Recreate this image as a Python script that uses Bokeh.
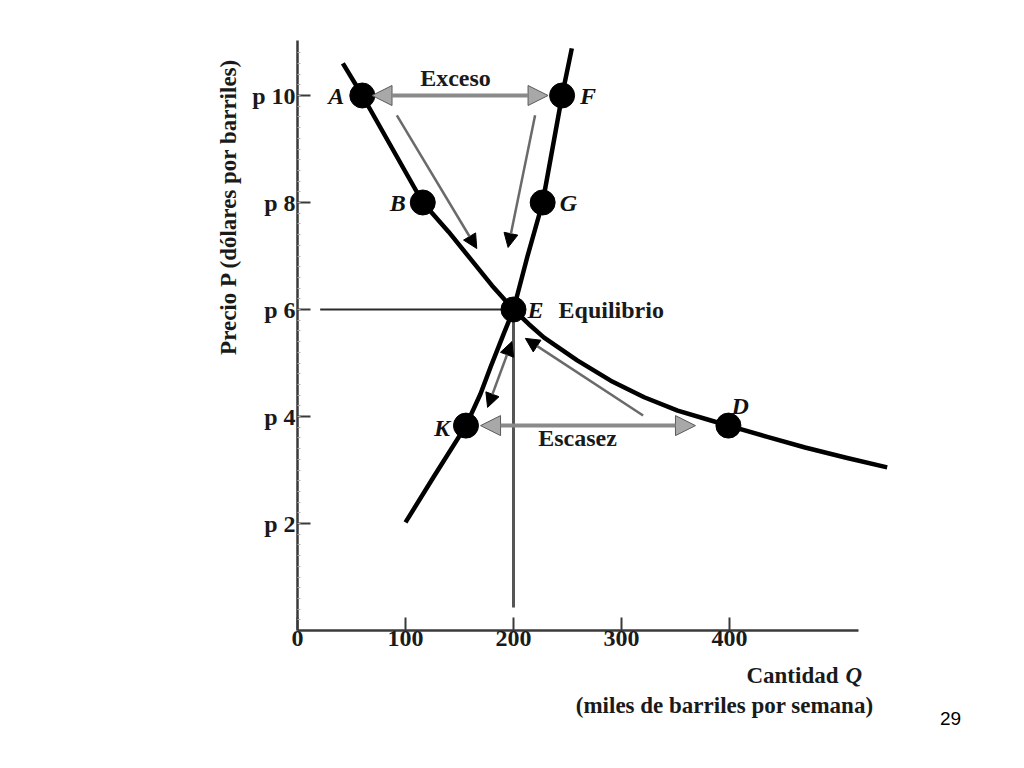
import math
from bokeh.plotting import figure
from bokeh.models import (ColumnDataSource, Label, Arrow, NormalHead, Range1d,
                          FixedTicker)
from bokeh.core.properties import value
from bokeh.embed import file_html
from bokeh.resources import INLINE

# ---------------- data ----------------
demand_q = [42, 60, 88, 116, 140, 160, 180, 200, 214, 228, 259, 290, 321, 352, 382, 399,
            435, 470, 508, 546]
demand_p = [10.6, 10.0, 9.0, 8.0, 7.45, 6.95, 6.45, 6.0, 5.73, 5.48, 5.05, 4.67, 4.36, 4.11,
            3.93, 3.83, 3.62, 3.42, 3.23, 3.05]

supply_q = [100, 126, 156, 169.4, 178.7, 191, 200, 213, 227, 236, 245, 254]
supply_p = [2.02, 2.87, 3.83, 4.42, 4.92, 5.55, 6.0, 7.0, 8.0, 9.0, 10.0, 10.88]

point_names = ["A", "B", "E", "K", "D", "F", "G"]
point_q = [60, 116, 200, 156, 399, 245, 227]
point_p = [10.0, 8.0, 6.0, 3.83, 3.83, 10.0, 8.0]

eq_q = 200
eq_p = 6

x_ticks = [0, 100, 200, 300, 400]
x_tick_labels = ["0", "100", "200", "300", "400"]
y_ticks = [2, 4, 6, 8, 10]
y_tick_labels = ["p 2", "p 4", "p 6", "p 8", "p 10"]

# double arrows (excess / shortage)
excess_q = [69, 232]
excess_p = 10.0
shortage_q = [169.5, 368.5]
shortage_p = 3.83

# adjustment arrows: start q, start p, end q, end p
adj_q0 = [92, 220, 320]
adj_p0 = [9.63, 9.63, 4.02]
adj_q1 = [166, 195, 211]
adj_p1 = [7.14, 7.16, 5.46]
# arrow along supply between K and E (heads at both ends)
kse_q = [198.5, 176]
kse_p = [5.4, 4.17]

x_title = "Cantidad"
x_title_var = "Q"
x_subtitle = "(miles de barriles por semana)"
y_title = "Precio P (dólares por barriles)"
slide_no = "29"

# ---------------- figure ----------------
SERIF = "Liberation Serif"
W, H = 1016, 760
PX_X = 1.08      # pixels per unit of quantity
PX_Y = 53.5      # pixels per unit of price
X0_PX, Y0_PX = 297, 630   # where the origin sits on the canvas
x_range = Range1d(-X0_PX / PX_X, (W - X0_PX) / PX_X)
y_range = Range1d((Y0_PX - H) / PX_Y, Y0_PX / PX_Y)

p = figure(width=W, height=H, x_range=x_range, y_range=y_range,
           output_backend="svg", toolbar_location=None,
           min_border_left=0, min_border_right=0, min_border_top=0, min_border_bottom=0)
p.grid.visible = False
p.outline_line_color = None
p.background_fill_color = "white"
p.border_fill_color = "white"

ax = p.xaxis[0]
ax.fixed_location = 0
ax.ticker = FixedTicker(ticks=x_ticks)
ax.major_label_overrides = {t: l for t, l in zip(x_ticks, x_tick_labels)}
ax.bounds = (0, 519)
ax.axis_line_width = 2.5
ax.axis_line_color = "#3a3a3a"
ax.major_tick_in = 13
ax.major_tick_out = 0
ax.major_tick_line_width = 2
ax.major_tick_line_color = "#3a3a3a"
ax.minor_tick_line_color = None
ax.major_label_standoff = 0
ax.major_label_text_font = SERIF
ax.major_label_text_font_style = "bold"
ax.major_label_text_font_size = "24px"
ax.major_label_text_color = "#1a1a1a"

ay = p.yaxis[0]
ay.fixed_location = 0
ay.ticker = FixedTicker(ticks=y_ticks, minor_ticks=[k * 0.2 for k in range(1, 55)])
ay.major_label_overrides = {t: l for t, l in zip(y_ticks, y_tick_labels)}
ay.bounds = (0, 11.03)
ay.axis_line_width = 2.5
ay.axis_line_color = "#3a3a3a"
ay.major_tick_in = 13
ay.major_tick_out = 0
ay.major_tick_line_width = 2
ay.major_tick_line_color = "#3a3a3a"
ay.minor_tick_in = 3
ay.minor_tick_out = 0
ay.minor_tick_line_width = 1
ay.minor_tick_line_color = "#b0b0b0"
ay.major_label_standoff = 2
ay.major_label_text_font = SERIF
ay.major_label_text_font_style = "bold"
ay.major_label_text_font_size = "24px"
ay.major_label_text_color = "#1a1a1a"

# guide lines to the equilibrium
p.line([21, eq_q], [eq_p, eq_p], line_color="#2a2a2a", line_width=2)
p.line([eq_q, eq_q], [0.43, eq_p], line_color="#555555", line_width=3)

# curves
p.line(demand_q, demand_p, line_color="black", line_width=4.5, line_join="round")
p.line(supply_q, supply_p, line_color="black", line_width=4.5, line_join="round")

# double arrows
gray_head = dict(size=20, fill_color="#a8a8a8", line_color="#5a5a5a", line_width=1)
p.add_layout(Arrow(x_start=excess_q[0], y_start=excess_p, x_end=excess_q[1], y_end=excess_p,
                   start=NormalHead(**gray_head), end=NormalHead(**gray_head),
                   line_color="#8a8a8a", line_width=4))
p.add_layout(Arrow(x_start=shortage_q[0], y_start=shortage_p, x_end=shortage_q[1], y_end=shortage_p,
                   start=NormalHead(**gray_head), end=NormalHead(**gray_head),
                   line_color="#8a8a8a", line_width=4))

# adjustment arrows
adj_src = ColumnDataSource(dict(x0=adj_q0, y0=adj_p0, x1=adj_q1, y1=adj_p1))
p.add_layout(Arrow(x_start="x0", y_start="y0", x_end="x1", y_end="y1", source=adj_src,
                   end=NormalHead(size=14, fill_color="black", line_color="black"),
                   line_color="#6a6a6a", line_width=2.5))
p.add_layout(Arrow(x_start=kse_q[0], y_start=kse_p[0], x_end=kse_q[1], y_end=kse_p[1],
                   start=NormalHead(size=14, fill_color="black", line_color="black"),
                   end=NormalHead(size=14, fill_color="black", line_color="black"),
                   line_color="#6a6a6a", line_width=2.5))

# points
p.scatter(point_q, point_p, size=25, fill_color="black", line_color="black")

# point letters
offsets = {"A": (-18, 0, "right"), "B": (-17, 0, "right"), "K": (-16, 2, "right"),
           "E": (14, 0, "left"), "F": (18, 0, "left"), "G": (17, 0, "left"),
           "D": (3, -20, "left")}
lab_src = ColumnDataSource(dict(
    x=point_q, y=point_p, t=point_names,
    xo=[offsets[n][0] for n in point_names],
    yo=[offsets[n][1] for n in point_names],
    al=[offsets[n][2] for n in point_names]))
p.text(x="x", y="y", text="t", x_offset="xo", y_offset="yo", text_align="al", source=lab_src,
       text_baseline="middle", text_font=value(SERIF), text_font_style="bold italic",
       text_font_size="24px", text_color="#111111")

# words
word_src = ColumnDataSource(dict(x=[146.3, 259.3], y=[10.32, 3.607], t=["Exceso", "Escasez"]))
p.text(x="x", y="y", text="t", source=word_src, text_align="center", text_baseline="middle",
       text_font=value(SERIF), text_font_style="bold", text_font_size="24px",
       text_color="#1a1a1a")
p.text(x=[241.7], y=[eq_p], text=["Equilibrio"], text_align="left", text_baseline="middle",
       text_font=value(SERIF), text_font_style="bold", text_font_size="24px",
       text_color="#1a1a1a")

# axis titles
p.add_layout(Label(x=-63.9, y=7.925, text=y_title, angle=math.pi / 2, text_align="center",
                   text_baseline="middle", text_font=SERIF, text_font_style="bold",
                   text_font_size="23px", text_color="#1a1a1a"))
p.add_layout(Label(x=500.9, y=-0.84, text=x_title, text_align="right", text_baseline="middle",
                   text_font=SERIF, text_font_style="bold", text_font_size="23px",
                   text_color="#1a1a1a"))
p.add_layout(Label(x=507.5, y=-0.84, text=x_title_var, text_align="left", text_baseline="middle",
                   text_font=SERIF, text_font_style="bold italic", text_font_size="23px",
                   text_color="#1a1a1a"))
p.add_layout(Label(x=533.3, y=-1.40, text=x_subtitle, text_align="right", text_baseline="middle",
                   text_font=SERIF, text_font_style="bold", text_font_size="23px",
                   text_color="#1a1a1a"))
p.add_layout(Label(x=604.6, y=-1.645, text=slide_no, text_align="center", text_baseline="middle",
                   text_font="Liberation Sans", text_font_size="19px", text_color="black"))

open("out.html", "w").write(file_html(p, INLINE))
